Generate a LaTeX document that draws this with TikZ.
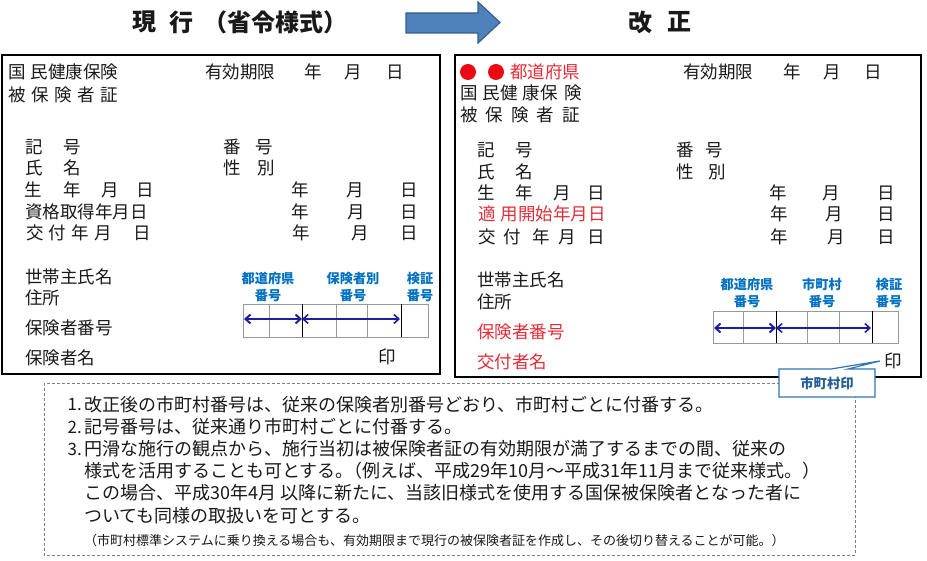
\documentclass[tikz,border=0pt]{standalone}
\usepackage{fontspec}
\setmainfont{Noto Sans CJK JP}
\usetikzlibrary{arrows.meta}
\definecolor{redt}{RGB}{228,45,55}
\definecolor{reddot}{RGB}{235,10,20}
\definecolor{lblblue}{RGB}{0,112,192}
\definecolor{arrnavy}{RGB}{30,30,160}
\definecolor{bigfill}{RGB}{79,129,189}
\definecolor{bigline}{RGB}{56,93,138}
\definecolor{callblue}{RGB}{46,117,182}
\definecolor{txt}{RGB}{25,25,25}
\begin{document}
\begin{tikzpicture}[x=1pt,y=-1pt,
  jtxt/.style={inner sep=0pt, font=\fontsize{17.5}{18}\selectfont, text=txt},
  jtxtw/.style={jtxt, anchor=west},
  jred/.style={jtxtw, text=redt},
  note/.style={inner sep=0pt, anchor=west, font=\fontsize{18}{20}\selectfont, text=txt},
  notenum/.style={inner sep=0pt, anchor=east, font=\fontsize{17}{20}\selectfont, text=txt},
  numlbl/.style={inner sep=0pt, align=center, text=lblblue, font=\bfseries\fontsize{13.2}{17}\selectfont},
  titletxt/.style={inner sep=0pt, font=\bfseries\fontsize{24}{26}\selectfont, text=txt},
  tgray/.style={draw=black!40, line width=0.7pt},
  tblack/.style={draw=black, line width=1pt},
  dblarrow/.style={draw=arrnavy, line width=1.6pt, {Straight Barb[length=5pt,width=9pt]}-{Straight Barb[length=5pt,width=9pt]}},
  formbox/.style={draw=black, line width=1.2pt}
]
\useasboundingbox (0,0) rectangle (927,561);

% titles and big arrow
\node[titletxt] (t1a) at (144,22) {現};
\node[titletxt] (t1b) at (181,22) {行};
\node[titletxt, anchor=west] (t1c) at (203,22) {（省令様式）};
\node[titletxt] (t2a) at (640,22) {改};
\node[titletxt] (t2b) at (679,22) {正};
\draw[fill=bigfill, draw=bigline, line width=1.2pt]
  (406,13) -- (478,13) -- (478,2) -- (500,22.5) -- (478,43) -- (478,33) -- (406,33) -- cycle;

% ---------- left card ----------
\draw[formbox] (2,55) rectangle (440,374);
\node[jtxtw] (l1) at (8,72) {国\hspace{5pt}民健康保険};
\node[jtxtw] (l2) at (205,72) {有効期限};
\node[jtxt] (l3) at (313,72) {年};
\node[jtxt] (l4) at (353,72) {月};
\node[jtxt] (l5) at (395,72) {日};
\node[jtxtw] (l6) at (8,95) {被\hspace{5.5pt}保\hspace{5.5pt}険\hspace{5.5pt}者\hspace{5.5pt}証};
\node[jtxt] (l7) at (34,147) {記};
\node[jtxt] (l8) at (72,147) {号};
\node[jtxt] (l9) at (232,147) {番};
\node[jtxt] (l10) at (264,147) {号};
\node[jtxt] (l11) at (34,168) {氏};
\node[jtxt] (l12) at (72,168) {名};
\node[jtxt] (l13) at (232,168) {性};
\node[jtxt] (l14) at (266,168) {別};
\node[jtxt] (l15) at (33,190) {生};
\node[jtxt] (l16) at (72,190) {年};
\node[jtxt] (l17) at (110,190) {月};
\node[jtxt] (l18) at (145,190) {日};
\node[jtxt] (l19) at (300,190) {年};
\node[jtxt] (l20) at (355,190) {月};
\node[jtxt] (l21) at (409,190) {日};
\node[jtxtw] (l22) at (25,212) {資格取得年月日};
\node[jtxt] (l23) at (300,212) {年};
\node[jtxt] (l24) at (356,212) {月};
\node[jtxt] (l25) at (409,212) {日};
\node[jtxt] (l26) at (35,233) {交};
\node[jtxt] (l27) at (57,233) {付};
\node[jtxt] (l28) at (80,233) {年};
\node[jtxt] (l29) at (103,233) {月};
\node[jtxt] (l30) at (142,233) {日};
\node[jtxt] (l31) at (301,233) {年};
\node[jtxt] (l32) at (360,233) {月};
\node[jtxt] (l33) at (409,233) {日};
\node[jtxtw] (l34) at (25,277) {世帯主氏名};
\node[jtxtw] (l35) at (25,298) {住所};
\node[jtxtw] (l36) at (25,328) {保険者番号};
\node[jtxtw] (l37) at (25,358) {保険者名};
\node[jtxt] (l38) at (387,357) {印};

% left number table
\draw[tgray] (243,304) rectangle (428,337);
\draw[tgray] (269,304) -- (269,337);
\draw[tgray] (336,304) -- (336,337);
\draw[tgray] (367,304) -- (367,337);
\draw[tblack] (302,304) -- (302,337);
\draw[tblack] (401,304) -- (401,337);
\node[numlbl] (lA) at (268,287) {都道府県\\番号};
\node[numlbl] (lB) at (353,287) {保険者別\\番号};
\node[numlbl] (lC) at (420,287) {検証\\番号};
\coordinate (La) at (244,319);
\coordinate (Lb) at (302,319);
\coordinate (Lc) at (400,319);
\draw[dblarrow, line width=2pt] (La) -- (Lb);
\draw[dblarrow] (Lb) -- (Lc);

% ---------- right card ----------
\draw[formbox] (455,55) rectangle (921,377);
\fill[reddot] (468,72) circle[radius=8pt];
\fill[reddot] (496,72) circle[radius=8pt];
\node[jred] (r1) at (510,72) {都道府県};
\node[jtxtw] (r2) at (683,72) {有効期限};
\node[jtxt] (r3) at (792,72) {年};
\node[jtxt] (r4) at (832,72) {月};
\node[jtxt] (r5) at (873,72) {日};
\node[jtxtw] (r6) at (460,93) {国\hspace{5pt}民健\hspace{5pt}康保\hspace{7pt}険};
\node[jtxtw] (r7) at (460,115) {被\hspace{8pt}保\hspace{8pt}険\hspace{8pt}者\hspace{8pt}証};
\node[jtxt] (r8) at (486,150) {記};
\node[jtxt] (r9) at (524,150) {号};
\node[jtxt] (r10) at (685,150) {番};
\node[jtxt] (r11) at (714,150) {号};
\node[jtxt] (r12) at (486,172) {氏};
\node[jtxt] (r13) at (524,172) {名};
\node[jtxt] (r14) at (685,172) {性};
\node[jtxt] (r15) at (717,172) {別};
\node[jtxt] (r16) at (486,193) {生};
\node[jtxt] (r17) at (524,193) {年};
\node[jtxt] (r18) at (562,193) {月};
\node[jtxt] (r19) at (596,193) {日};
\node[jtxt] (r20) at (778,193) {年};
\node[jtxt] (r21) at (831,193) {月};
\node[jtxt] (r22) at (886,193) {日};
\node[jred] (r23) at (478,214) {適\hspace{5pt}用開始年月日};
\node[jtxt] (r24) at (779,214) {年};
\node[jtxt] (r25) at (834,214) {月};
\node[jtxt] (r26) at (886,214) {日};
\node[jtxt] (r27) at (487,237) {交};
\node[jtxt] (r28) at (512,237) {付};
\node[jtxt] (r29) at (541,237) {年};
\node[jtxt] (r30) at (567,237) {月};
\node[jtxt] (r31) at (596,237) {日};
\node[jtxt] (r32) at (779,237) {年};
\node[jtxt] (r33) at (836,237) {月};
\node[jtxt] (r34) at (886,237) {日};
\node[jtxtw] (r35) at (477,280) {世帯主氏名};
\node[jtxtw] (r36) at (477,302) {住所};
\node[jred] (r37) at (477,332) {保険者番号};
\node[jred] (r38) at (477,362) {交付者名};
\node[jtxt] (r39) at (893,361) {印};

% right number table
\draw[tgray] (713,311) rectangle (898,343);
\draw[tgray] (743,311) -- (743,343);
\draw[tgray] (807,311) -- (807,343);
\draw[tgray] (839,311) -- (839,343);
\draw[tblack] (776,311) -- (776,343);
\draw[tblack] (872,311) -- (872,343);
\node[numlbl] (rA) at (747,293) {都道府県\\番号};
\node[numlbl] (rB) at (822,293) {市町村\\番号};
\node[numlbl] (rC) at (889,293) {検証\\番号};
\coordinate (Ra) at (714,328);
\coordinate (Rb) at (776,328);
\coordinate (Rc) at (871,328);
\draw[dblarrow, line width=2pt] (Ra) -- (Rb);
\draw[dblarrow] (Rb) -- (Rc);

% ---------- notes box ----------
\draw[draw=black!50, line width=0.8pt, dash pattern=on 3pt off 2pt] (44,383) rectangle (855,555);
\node[notenum] (n1) at (82,405) {1.};
\node[note] (n1t) at (84,405) {改正後の市町村番号は、従来の保険者別番号どおり、市町村ごとに付番する。};
\node[notenum] (n2) at (82,427) {2.};
\node[note] (n2t) at (84,427) {記号番号は、従来通り市町村ごとに付番する。};
\node[notenum] (n3) at (82,449) {3.};
\node[note] (n3t) at (84,449) {円滑な施行の観点から、施行当初は被保険者証の有効期限が満了するまでの間、従来の};
\node[note] (n4t) at (84,471) {様式を活用することも可とする。\hspace{-9pt}（例えば、平成29年10月～平成31年11月まで従来様式。）};
\node[note] (n5t) at (84,493) {この場合、平成30年4月 以降に新たに、当該旧様式を使用する国保被保険者となった者に};
\node[note] (n6t) at (84,516) {ついても同様の取扱いを可とする。};
\node[note, font=\fontsize{13}{14}\selectfont] (n7t) at (84,541) {（市町村標準システムに乗り換える場合も、有効期限まで現行の被保険者証を作成し、その後切り替えることが可能。）};

% ---------- callout ----------
\draw[fill=white, draw=callblue, line width=1.2pt]
  (779,369) -- (831,369) -- (880,361) -- (848,369) -- (875,369) -- (875,397) -- (779,397) -- cycle;
\node[inner sep=0pt, text=callblue!80!black, font=\bfseries\fontsize{13.3}{15}\selectfont] (cl) at (827,383) {市町村印};
\end{tikzpicture}
\end{document}
